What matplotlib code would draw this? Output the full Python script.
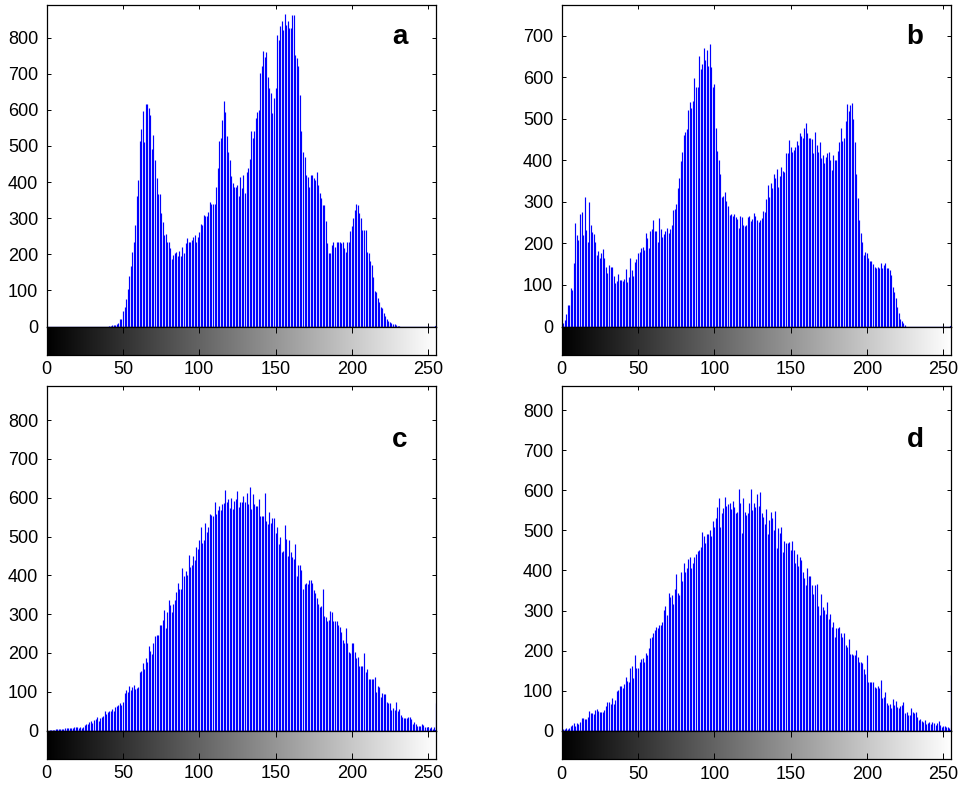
import numpy as np
import matplotlib
matplotlib.use("Agg")
import matplotlib.pyplot as plt

plt.rcParams.update({
    "font.family": ["Liberation Sans", "DejaVu Sans"],
    "font.size": 13,
    "axes.linewidth": 0.9,
    "xtick.direction": "in",
    "ytick.direction": "in",
})

W, H = 963, 786

# grey levels 0..255
bins = np.arange(256)

# pixel counts per grey level
hist_a = [
    0, 0, 0, 0, 0, 0, 0, 0, 0, 0, 0, 0, 0, 0, 0, 0,
    0, 0, 0, 0, 0, 0, 0, 0, 0, 0, 0, 0, 0, 0, 0, 0,
    0, 0, 0, 0, 0, 0, 0, 0, 0, 1, 2, 3, 4, 5, 8, 10,
    20, 22, 43, 55, 76, 104, 140, 168, 205, 235, 281, 360, 406, 514, 547, 597,
    512, 616, 615, 605, 585, 490, 530, 460, 410, 368, 368, 313, 288, 253, 255, 235,
    233, 218, 187, 198, 203, 206, 194, 210, 194, 219, 203, 230, 244, 233, 233, 240,
    249, 254, 235, 247, 261, 283, 281, 308, 306, 306, 317, 345, 339, 340, 338, 387,
    440, 513, 522, 572, 623, 595, 526, 484, 461, 418, 397, 385, 385, 392, 360, 415,
    383, 420, 369, 429, 438, 464, 540, 521, 541, 577, 595, 600, 701, 720, 764, 747,
    761, 692, 660, 646, 590, 632, 660, 808, 794, 831, 845, 822, 865, 835, 845, 826,
    826, 863, 863, 752, 743, 720, 641, 541, 484, 470, 420, 415, 387, 420, 420, 410,
    406, 429, 392, 369, 355, 336, 336, 291, 230, 203, 203, 226, 233, 221, 233, 235,
    235, 231, 235, 217, 207, 235, 233, 263, 279, 301, 323, 339, 337, 313, 300, 267,
    268, 267, 207, 203, 180, 170, 138, 99, 96, 78, 69, 55, 50, 37, 29, 21,
    16, 12, 9, 7, 7, 4, 2, 2, 0, 0, 0, 0, 0, 0, 0, 0,
    0, 0, 0, 0, 0, 0, 0, 0, 0, 0, 0, 0, 0, 0, 0, 0,
]

hist_b = [
    4, 8, 16, 29, 52, 52, 92, 88, 154, 248, 220, 208, 270, 276, 220, 312,
    232, 204, 300, 244, 228, 222, 204, 172, 182, 164, 176, 186, 164, 144, 128, 148,
    144, 144, 122, 104, 110, 126, 112, 112, 110, 114, 138, 108, 118, 164, 136, 122,
    156, 162, 176, 180, 188, 192, 184, 224, 212, 188, 230, 234, 256, 230, 230, 204,
    262, 234, 216, 222, 230, 236, 224, 234, 244, 280, 282, 294, 334, 358, 398, 420,
    462, 469, 475, 521, 540, 525, 543, 599, 577, 577, 652, 621, 633, 671, 641, 665,
    628, 681, 625, 577, 583, 477, 423, 401, 367, 311, 315, 325, 302, 291, 268, 271,
    267, 272, 264, 258, 238, 266, 264, 244, 242, 244, 264, 266, 254, 260, 274, 267,
    256, 251, 256, 262, 278, 276, 308, 341, 312, 345, 334, 366, 357, 378, 337, 362,
    385, 375, 373, 417, 417, 449, 431, 421, 424, 433, 447, 438, 465, 459, 455, 477,
    491, 465, 455, 455, 451, 417, 469, 437, 421, 445, 405, 413, 393, 409, 418, 421,
    401, 377, 413, 401, 401, 422, 445, 477, 446, 455, 495, 536, 519, 533, 537, 499,
    445, 366, 310, 256, 224, 204, 172, 180, 176, 166, 158, 158, 150, 144, 142, 144,
    142, 154, 140, 148, 152, 140, 140, 136, 124, 96, 84, 68, 48, 32, 18, 13,
    8, 4, 0, 0, 0, 0, 0, 0, 0, 0, 0, 0, 0, 0, 0, 0,
    0, 0, 0, 0, 0, 0, 0, 0, 0, 0, 0, 0, 0, 0, 0, 0,
]

hist_c = [
    0, 0, 1, 1, 1, 2, 3, 3, 3, 3, 3, 4, 6, 6, 6, 6,
    6, 7, 8, 8, 8, 6, 10, 7, 10, 14, 16, 18, 21, 24, 20, 27,
    29, 36, 25, 31, 36, 37, 49, 42, 47, 49, 51, 55, 49, 60, 63, 66,
    70, 66, 74, 96, 104, 100, 115, 104, 113, 117, 106, 109, 111, 152, 153, 175,
    158, 188, 176, 218, 205, 196, 226, 243, 247, 246, 272, 272, 285, 310, 263, 306,
    336, 323, 306, 326, 336, 356, 379, 366, 366, 420, 399, 411, 402, 452, 422, 426,
    450, 439, 474, 469, 491, 524, 484, 491, 536, 512, 525, 558, 556, 554, 589, 557,
    568, 579, 568, 583, 586, 621, 589, 597, 573, 600, 570, 592, 598, 618, 577, 590,
    590, 604, 590, 613, 585, 628, 570, 610, 583, 579, 579, 596, 553, 553, 553, 613,
    541, 532, 564, 534, 547, 547, 510, 525, 481, 500, 461, 462, 530, 493, 450, 491,
    461, 448, 441, 481, 398, 427, 427, 415, 366, 378, 379, 378, 388, 388, 379, 362,
    354, 341, 326, 319, 321, 366, 296, 293, 281, 285, 309, 306, 281, 281, 281, 272,
    268, 255, 233, 225, 263, 226, 203, 200, 225, 226, 203, 186, 189, 166, 165, 165,
    199, 152, 158, 134, 132, 132, 132, 139, 100, 115, 113, 87, 96, 93, 93, 74,
    72, 72, 53, 57, 53, 73, 49, 55, 40, 36, 33, 33, 33, 36, 34, 29,
    17, 21, 18, 12, 12, 12, 18, 14, 8, 10, 10, 6, 8, 3, 10, 70,
]

hist_d = [
    2, 4, 4, 6, 4, 8, 12, 15, 19, 12, 19, 17, 23, 31, 33, 29,
    29, 35, 50, 44, 45, 42, 51, 54, 50, 48, 46, 48, 53, 62, 73, 73,
    67, 83, 66, 77, 100, 103, 111, 111, 106, 116, 135, 125, 122, 157, 161, 131,
    190, 156, 156, 172, 178, 181, 172, 193, 189, 206, 232, 235, 243, 251, 260, 256,
    264, 265, 272, 301, 311, 290, 343, 334, 339, 316, 353, 391, 343, 339, 397, 373,
    418, 397, 405, 428, 433, 407, 419, 433, 441, 449, 451, 458, 497, 485, 469, 491,
    491, 501, 486, 523, 508, 530, 557, 580, 509, 542, 555, 582, 560, 565, 567, 552,
    573, 557, 544, 546, 602, 569, 494, 580, 546, 538, 542, 567, 602, 550, 567, 557,
    590, 560, 595, 542, 534, 517, 552, 491, 526, 546, 530, 501, 549, 455, 507, 494,
    509, 447, 473, 469, 469, 471, 451, 473, 451, 418, 440, 411, 434, 426, 397, 380,
    364, 407, 385, 387, 364, 341, 364, 366, 311, 289, 342, 310, 301, 291, 322, 280,
    291, 260, 272, 234, 256, 256, 258, 245, 234, 245, 214, 210, 228, 191, 191, 189,
    189, 201, 183, 171, 171, 170, 153, 141, 188, 121, 121, 121, 121, 110, 106, 111,
    106, 127, 83, 85, 97, 70, 64, 68, 58, 79, 64, 75, 60, 58, 63, 64,
    73, 44, 48, 39, 39, 58, 48, 44, 48, 35, 27, 29, 25, 23, 27, 17,
    19, 23, 17, 21, 19, 15, 19, 25, 15, 10, 13, 12, 10, 10, 6, 139,
]

panel_labels = ["a", "b", "c", "d"]
y_ticks = [np.arange(0, 900, 100), np.arange(0, 800, 100),
           np.arange(0, 900, 100), np.arange(0, 900, 100)]
y_max = [890, 774, 888, 860]
x_ticks = [0, 50, 100, 150, 200, 250]

# panel boxes in pixels: (left, top, right, bottom of histogram area)
boxes = [(46.7, 5, 435.7, 326.5), (561.7, 5, 950.8, 326.5),
         (46.7, 386, 435.7, 730.5), (561.7, 386, 950.8, 730.8)]
label_y = [0.90, 0.90, 0.843, 0.843]
CBAR_H = 28


def frac(l, t, r, b):
    return [l / W, 1 - b / H, (r - l) / W, (b - t) / H]


fig = plt.figure(figsize=(W / 100, H / 100), dpi=100)
gradient = np.arange(256).reshape(1, -1)

for i, hist in enumerate([hist_a, hist_b, hist_c, hist_d]):
    l, t, r, b = boxes[i]
    ax = fig.add_axes(frac(l, t, r, b))
    ax.vlines(bins, 0, hist, color="#0000ff", linewidth=0.85)
    ax.plot([bins[0], bins[-1]], [0, 0], color="#0000ff", linewidth=0.9)
    ax.plot([bins[-1]], [0], ".", color="#0000ff", markersize=3)
    ax.set_xlim(0, 255)
    ax.set_ylim(0, y_max[i])
    ax.set_yticks(y_ticks[i])
    ax.set_xticks(x_ticks)
    ax.set_xticklabels([])
    ax.tick_params(top=True, right=True, length=3, width=0.7, labelsize=13, pad=6)
    ax.text(0.908, label_y[i], panel_labels[i], transform=ax.transAxes,
            ha="center", va="center", fontsize=20, fontweight="bold")

    # grey-level colour bar under each histogram
    cax = fig.add_axes(frac(l, b, r, b + CBAR_H))
    cax.imshow(gradient, cmap="gray", aspect="auto", extent=[0, 255, 0, 1],
               vmin=0, vmax=255)
    cax.set_xlim(0, 255)
    cax.set_ylim(0, 1)
    cax.set_yticks([])
    cax.set_xticks(x_ticks)
    cax.tick_params(top=True, bottom=True, length=4, width=0.7, labelsize=13, pad=5)

fig.savefig("out.png", dpi=100)
